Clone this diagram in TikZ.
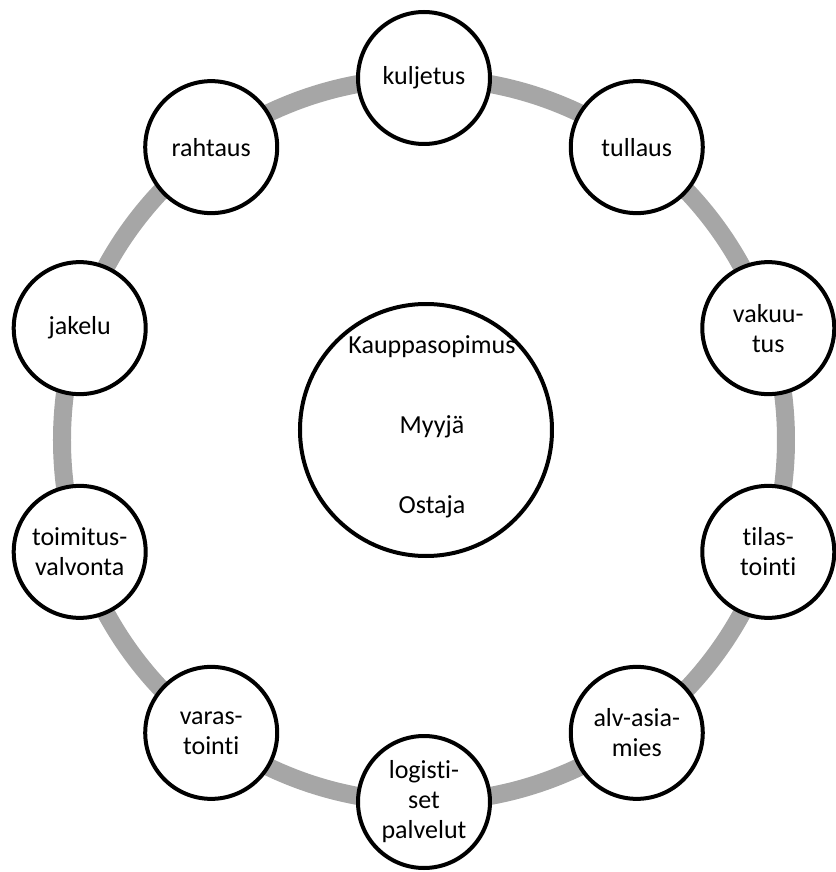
\documentclass[tikz,border=0pt]{standalone}
\usepackage{fontspec}
\setmainfont[Ligatures=NoCommon]{Carlito}
\begin{document}
\begin{tikzpicture}[x=0.75pt,y=0.75pt,
  ringline/.style={line width=13.5pt,draw={rgb,255:red,166;green,166;blue,166}},
  task/.style={circle,draw=black,line width=3pt,fill=white,minimum size=99pt,
    inner sep=0pt,align=center,font=\fontsize{19.5}{22.5}\selectfont},
  hub/.style={circle,draw=black,line width=3pt,fill=white,minimum size=189pt,inner sep=0pt},
  hubtext/.style={font=\fontsize{19.5}{22.5}\selectfont}]
  % page frame
  \useasboundingbox (-424,-432) rectangle (412,440);
  % ring linking the services
  \coordinate (c) at (0,0);
  \draw[ringline] (c) circle[radius=271.5pt];
  % services around the ring
  \node[task] (kuljetus) at (90:362)  {kuljetus};
  \node[task] (tullaus)  at (54:362)  {tullaus};
  \node[task] (vakuutus) at (18:362)  {vakuu-\\tus};
  \node[task] (tilastointi) at (-18:362) {tilas-\\tointi};
  \node[task] (alv) at (-54:362) {alv-asia-\\mies};
  \node[task] (logistiset) at (-90:362) {logisti-\\set\\palvelut};
  \node[task] (varastointi) at (234:362) {varas-\\tointi};
  \node[task] (toimitus) at (198:362) {toimitus-\\valvonta};
  \node[task] (jakelu) at (162:362) {jakelu};
  \node[task] (rahtaus) at (126:362) {rahtaus};
  % contract in the middle
  \node[hub] (sopimus) at (2,10) {};
  \node[hubtext] (kauppa) at (8,93) {Kauppasopimus};
  \node[hubtext] (myyja) at (8,13) {Myyjä};
  \node[hubtext] (ostaja) at (8,-67) {Ostaja};
\end{tikzpicture}
\end{document}
